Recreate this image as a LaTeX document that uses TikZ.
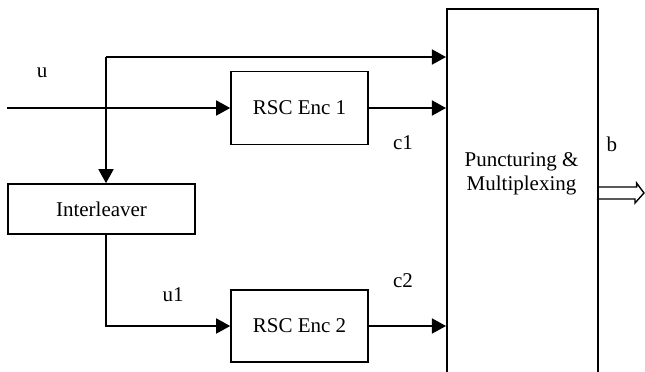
\documentclass[tikz,border=0pt]{standalone}
\usepackage{fontspec}
\setmainfont{Liberation Serif}
\usetikzlibrary{arrows.meta}

\tikzset{
  blk/.style={draw, line width=0.8pt, inner sep=0pt, font=\fontsize{10.5}{12}\selectfont},
  sig/.style={line width=0.8pt, -{Triangle[length=7pt,width=7.5pt]}},
  wire/.style={line width=0.8pt},
  lbl/.style={font=\fontsize{10.5}{12}\selectfont}
}

\begin{document}
\begin{tikzpicture}[x=0.5pt, y=-0.5pt]
\useasboundingbox (0,0) rectangle (645,371);

% ================================================================
%  Bloques
% ================================================================
\node[blk, minimum width=68.5pt, minimum height=36.5pt] (enc1)  at (299.5, 108) {RSC Enc 1};
\node[blk, minimum width=68.5pt, minimum height=36pt]   (enc2)  at (299.5, 326) {RSC Enc 2};
\node[blk, minimum width=93.5pt, minimum height=25pt]   (inter) at (101.5, 209) {Interleaver};
\node[blk, minimum width=75.5pt, minimum height=184pt, anchor=north west] (punct) at (446, 8) {};
\node[lbl, align=center] (punctxt) at (521.5, 174) {Puncturing \&\\Multiplexing};

% Puntos auxiliares
\coordinate (in)  at (7, 108);
\coordinate (tap) at (106, 108);
\coordinate (top) at (106, 57);
\coordinate (out) at (644, 193);

% ================================================================
%  Conexiones
% ================================================================
\draw[sig]  (in) -- (enc1.west);
\draw[wire] (tap) -- (top);
\draw[sig]  (top) -- (punct.west |- top);
\draw[sig]  (tap) -- (tap |- inter.north);
\draw[sig]  (tap |- inter.south) |- (enc2.west);
\draw[sig]  (enc1.east) -- (punct.west |- enc1.east);
\draw[sig]  (enc2.east) -- (punct.west |- enc2.east);

% Flecha hueca de salida
\draw[line width=0.7pt] (punct.east |- out) ++(0,-6) -- ++(38,0) -- ++(0,-4) -- (out)
    -- ++(-9,10) -- ++(0,-4) -- ++(-38,0);

% Etiquetas
\node[lbl] (lu)  at (42, 73)   {u};
\node[lbl] (lc1) at (403, 143) {c1};
\node[lbl] (lu1) at (173, 295) {u1};
\node[lbl] (lc2) at (403, 281) {c2};
\node[lbl] (lb)  at (612, 144) {b};

\end{tikzpicture}
\end{document}
